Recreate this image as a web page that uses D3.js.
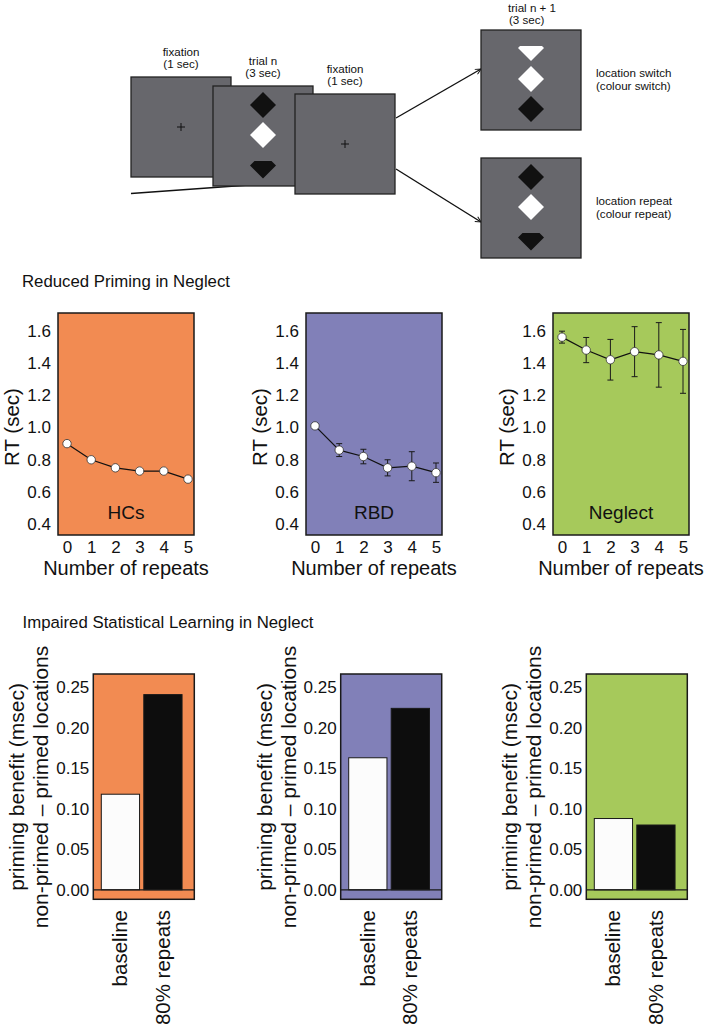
<!DOCTYPE html>
<html>
<head>
<meta charset="utf-8">
<script src="https://cdn.jsdelivr.net/npm/d3@7"></script>
<style>
  html, body { margin: 0; padding: 0; background: #fff; }
  svg { display: block; font-family: "Liberation Sans", Arial, Helvetica, sans-serif; }
</style>
</head>
<body>
<svg id="fig" width="708" height="1035"></svg>
<script>
// ---------------- DATA ----------------
const repeats = [0, 1, 2, 3, 4, 5];
const groups = ["HCs", "RBD", "Neglect"];
const rtHCs = [0.90, 0.80, 0.75, 0.73, 0.73, 0.68];
const errHCs = [0, 0, 0, 0, 0, 0];
const rtRBD = [1.01, 0.86, 0.82, 0.75, 0.76, 0.72];
const errRBD = [0, 0.040, 0.045, 0.050, 0.090, 0.060];
const rtNeglect = [1.56, 1.48, 1.42, 1.47, 1.45, 1.41];
const errNeglect = [0.037, 0.078, 0.126, 0.155, 0.200, 0.198];
const rtTicks = [0.4, 0.6, 0.8, 1.0, 1.2, 1.4, 1.6];

const conditions = ["baseline", "80% repeats"];
const benefitHCs = [0.118, 0.241];
const benefitRBD = [0.163, 0.224];
const benefitNeglect = [0.088, 0.080];
const benefitTicks = [0.00, 0.05, 0.10, 0.15, 0.20, 0.25];

const sectionTitles = ["Reduced Priming in Neglect", "Impaired Statistical Learning in Neglect"];

// ---------------- STYLE / LAYOUT ----------------
const groupColors = ["#f28b52", "#8180b8", "#a6c95b"];
const svg = d3.select("#fig");
const FONT_TICK = 17, FONT_LABEL = 20;

// ===== Top diagram =====
const diag = svg.append("g");
const BOX = 100;
const boxes = [
  { x: 131, y: 77, items: [{ t: "cross" }] },
  { x: 213, y: 86, items: [{ t: "diamond", dy: 19, fill: "#111" }, { t: "diamond", dy: 49, fill: "#fff" }, { t: "gem", dy: 79.5, cut: 4.5, fill: "#111" }] },
  { x: 295, y: 94, items: [{ t: "cross" }] },
  { x: 481, y: 30, items: [{ t: "gem", dy: 18, cut: 2, fill: "#fff" }, { t: "diamond", dy: 49, fill: "#fff" }, { t: "diamond", dy: 79, fill: "#111" }] },
  { x: 481, y: 158, items: [{ t: "diamond", dy: 19, fill: "#111" }, { t: "diamond", dy: 49, fill: "#fff" }, { t: "gem", dy: 79.5, cut: 4.5, fill: "#111" }] }
];
const defs = svg.append("defs");
defs.append("marker").attr("id", "arr").attr("viewBox", "0 0 10 10").attr("refX", 9).attr("refY", 5)
  .attr("markerWidth", 7).attr("markerHeight", 7).attr("markerUnits", "userSpaceOnUse").attr("orient", "auto")
  .append("path").attr("d", "M1,1 L9,5 L1,9").attr("fill", "none").attr("stroke", "#111").attr("stroke-width", 1.4);

const arrows = [
  [[396, 118], [481, 69]],
  [[396, 169], [481, 222]],
  [[131, 193.5], [297, 181.5]]
];
diag.selectAll("line.arrow").data(arrows).join("line").attr("class", "arrow")
  .attr("x1", d => d[0][0]).attr("y1", d => d[0][1]).attr("x2", d => d[1][0]).attr("y2", d => d[1][1])
  .attr("stroke", "#111").attr("stroke-width", 1.4).attr("marker-end", "url(#arr)");

boxes.forEach(b => {
  const g = diag.append("g");
  g.append("rect").attr("x", b.x).attr("y", b.y).attr("width", BOX).attr("height", BOX)
    .attr("fill", "#67676c").attr("stroke", "#222").attr("stroke-width", 1.3);
  const cx = b.x + BOX / 2;
  b.items.forEach(it => {
    if (it.t === "cross") {
      const cy = b.y + BOX / 2;
      g.append("path").attr("d", `M${cx - 4},${cy} H${cx + 4} M${cx},${cy - 4} V${cy + 4}`)
        .attr("stroke", "#111").attr("stroke-width", 1);
    } else if (it.t === "diamond") {
      const cy = b.y + it.dy, h = 13;
      g.append("path").attr("d", `M${cx},${cy - h} L${cx + h},${cy} L${cx},${cy + h} L${cx - h},${cy} Z`).attr("fill", it.fill);
    } else {
      const cy = b.y + it.dy, h = 13, c = it.cut;
      g.append("path").attr("d", `M${cx - (h - c)},${cy - c} L${cx + (h - c)},${cy - c} L${cx + h},${cy} L${cx},${cy + h} L${cx - h},${cy} Z`).attr("fill", it.fill);
    }
  });
});

const diagTexts = [
  { x: 181, y: 56, a: "middle", s: "fixation" }, { x: 181, y: 68, a: "middle", s: "(1 sec)" },
  { x: 263, y: 64.5, a: "middle", s: "trial n" }, { x: 263, y: 76.5, a: "middle", s: "(3 sec)" },
  { x: 345, y: 73, a: "middle", s: "fixation" }, { x: 345, y: 85, a: "middle", s: "(1 sec)" },
  { x: 508, y: 11.5, a: "start", s: "trial n + 1" }, { x: 509, y: 23.5, a: "start", s: "(3 sec)" },
  { x: 596, y: 77, a: "start", s: "location switch" }, { x: 596, y: 89.5, a: "start", s: "(colour switch)" },
  { x: 596, y: 205, a: "start", s: "location repeat" }, { x: 596, y: 217.5, a: "start", s: "(colour repeat)" }
];
diag.selectAll("text").data(diagTexts).join("text")
  .attr("x", d => d.x).attr("y", d => d.y).attr("text-anchor", d => d.a)
  .attr("font-size", 11.6).attr("fill", "#111").text(d => d.s);

// ===== Section titles =====
svg.append("text").attr("x", 22).attr("y", 287).attr("font-size", 16.8).attr("fill", "#111").text(sectionTitles[0]);
svg.append("text").attr("x", 22.5).attr("y", 627.5).attr("font-size", 16.8).attr("fill", "#111").text(sectionTitles[1]);

// ===== Line charts =====
const rtSeries = [rtHCs, rtRBD, rtNeglect];
const errSeries = [errHCs, errRBD, errNeglect];
const lineLefts = [58, 306, 553];
const LTOP = 313, LBOT = 535, LW = 136;
const yRT = d3.scaleLinear().domain([0.4, 1.6]).range([524.3, 330.7]);

groups.forEach((grp, i) => {
  const left = lineLefts[i];
  const g = svg.append("g");
  const x = d3.scaleLinear().domain([0, 5]).range([left + 9, left + 130]);
  g.append("rect").attr("x", left).attr("y", LTOP).attr("width", LW).attr("height", LBOT - LTOP)
    .attr("fill", groupColors[i]).attr("stroke", "#1a1a1a").attr("stroke-width", 1.5);

  const ya = g.append("g").attr("transform", `translate(${left - 7},0)`)
    .call(d3.axisLeft(yRT).tickValues(rtTicks).tickSize(0).tickPadding(0).tickFormat(d3.format(".1f")));
  ya.select(".domain").remove();
  ya.selectAll("text").attr("font-size", FONT_TICK).attr("font-family", null).attr("fill", "#111");

  const xa = g.append("g").attr("transform", `translate(0,${LBOT})`)
    .call(d3.axisBottom(x).tickValues(repeats).tickSize(0).tickPadding(6).tickFormat(d3.format("d")));
  xa.select(".domain").remove();
  xa.selectAll("text").attr("font-size", FONT_TICK).attr("font-family", null).attr("fill", "#111");

  g.append("text").attr("x", left + LW / 2).attr("y", 575).attr("text-anchor", "middle")
    .attr("font-size", FONT_LABEL).attr("fill", "#111").text("Number of repeats");
  g.append("text").attr("transform", `translate(${left - 39},427) rotate(-90)`).attr("text-anchor", "middle")
    .attr("font-size", 20.5).attr("fill", "#111").text("RT (sec)");
  g.append("text").attr("x", left + LW / 2).attr("y", 518.5).attr("text-anchor", "middle")
    .attr("font-size", 19).attr("fill", "#111").text(grp);

  const pts = repeats.map((r, k) => ({ r, v: rtSeries[i][k], e: errSeries[i][k] }));
  const eb = pts.filter(p => p.e > 0);
  g.selectAll("path.err").data(eb).join("path").attr("class", "err")
    .attr("d", p => {
      const cx = x(p.r), y1 = yRT(p.v + p.e), y2 = yRT(p.v - p.e);
      return `M${cx},${y1} V${y2} M${cx - 3},${y1} H${cx + 3} M${cx - 3},${y2} H${cx + 3}`;
    })
    .attr("fill", "none").attr("stroke", "#1a1a1a").attr("stroke-width", 1);
  g.append("path").datum(pts).attr("d", d3.line().x(p => x(p.r)).y(p => yRT(p.v)))
    .attr("fill", "none").attr("stroke", "#111").attr("stroke-width", 1.2);
  g.selectAll("circle").data(pts).join("circle")
    .attr("cx", p => x(p.r)).attr("cy", p => yRT(p.v)).attr("r", 4.2)
    .attr("fill", "#fff").attr("stroke", "#333").attr("stroke-width", 0.8);
});

// ===== Bar charts =====
const benefitSeries = [benefitHCs, benefitRBD, benefitNeglect];
const barLefts = [93.3, 340.7, 586.3];
const BTOP = 674, BBOT = 899.3, BW = 101;
const yB = d3.scaleLinear().domain([0, 0.25]).range([889.8, 687.3]);
const barFills = ["#fcfcfc", "#0d0d0d"];

groups.forEach((grp, i) => {
  const left = barLefts[i];
  const g = svg.append("g");
  const x = d3.scaleBand().domain(conditions).range([left + 3.75, left + 93]).padding(0.1);
  g.append("rect").attr("x", left).attr("y", BTOP).attr("width", BW).attr("height", BBOT - BTOP)
    .attr("fill", groupColors[i]).attr("stroke", "#1a1a1a").attr("stroke-width", 1.5);

  g.selectAll("rect.bar").data(conditions.map((c, k) => ({ c, v: benefitSeries[i][k], k })))
    .join("rect").attr("class", "bar")
    .attr("x", d => x(d.c)).attr("width", x.bandwidth())
    .attr("y", d => yB(d.v)).attr("height", d => yB(0) - yB(d.v))
    .attr("fill", d => barFills[d.k]).attr("stroke", "#1a1a1a").attr("stroke-width", 1);

  g.append("line").attr("x1", left).attr("x2", left + BW).attr("y1", yB(0)).attr("y2", yB(0))
    .attr("stroke", "#1a1a1a").attr("stroke-width", 1.2);

  const ya = g.append("g").attr("transform", `translate(${left - 4},0)`)
    .call(d3.axisLeft(yB).tickValues(benefitTicks).tickSize(0).tickPadding(0).tickFormat(d3.format(".2f")));
  ya.select(".domain").remove();
  ya.selectAll("text").attr("font-size", FONT_TICK).attr("font-family", null).attr("fill", "#111");

  const yl = g.append("text").attr("transform", `translate(${left - 69},787) rotate(-90)`)
    .attr("text-anchor", "middle").attr("font-size", 21).attr("fill", "#111");
  yl.append("tspan").attr("x", 0).attr("dy", 0).text("priming benefit (msec)");
  yl.append("tspan").attr("x", 0).attr("dy", 24).text("non-primed \u2013 primed locations");

  g.selectAll("text.cat").data(conditions).join("text").attr("class", "cat")
    .attr("transform", c => `translate(${x(c) + x.bandwidth() / 2 + 7},910) rotate(-90)`)
    .attr("text-anchor", "end").attr("font-size", 20.5).attr("fill", "#111").text(c => c);
});
</script>
</body>
</html>
